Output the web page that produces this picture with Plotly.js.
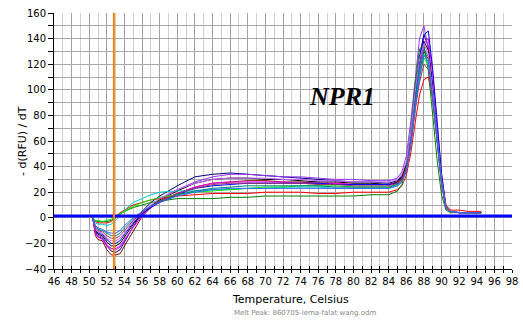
<!DOCTYPE html>
<html>
<head>
<meta charset="utf-8">
<script src="https://cdn.plot.ly/plotly-3.0.1.min.js"></script>
<style>html,body{margin:0;padding:0;background:#fff;}#chart{width:523px;height:322px;}</style>
</head>
<body>
<div id="chart"></div>
<script>
// Temperature (Celsius) sample points shared by all melt curves
const temps = [50.4,50.7,51,51.5,52,52.5,53,53.5,54,55,56,57,58,60,62,64,66,68,70,72,74,76,78,80,82,84,85,85.5,86,86.5,87,87.5,88,88.5,89,89.5,90,90.5,91,92,93,94.5];

// -d(RFU)/dT for each well
const wellNavy    = [0,-12,-15,-16,-22,-26,-27,-25,-19,-7,5,12,17,25,32,34,35,34,33,32,31,30,29,28,28,27, 29,33,42,66,98,126,143,134,103,64,30,8,5,4,4,4];
const wellPurple  = [0,-11,-14,-15,-21,-24,-25,-23,-18,-7,2,9,15,22,28,32,34,34,33,32,32,31,30,30,29,29, 31,36,48,75,110,140,150,132,96,58,26,7,5,4,4,4];
const wellBlack   = [0,-10,-13,-14,-19,-22,-22,-20,-15,-5,3,9,14,21,27,30,31,31,30,30,29,28,28,27,27,26, 28,32,41,63,94,122,138,131,101,63,29,8,5,4,4,4];
const wellDarkRed = [0,-14,-17,-18,-25,-29,-29,-28,-22,-10,1,8,13,19,24,27,28,29,29,28,28,27,27,26,26,26, 28,31,40,60,88,114,130,124,97,61,28,8,5,4,4,4];
const wellMagenta = [0,-12,-15,-17,-22,-24,-24,-22,-17,-7,2,8,13,19,24,27,28,28,28,28,27,27,27,26,26,26, 27,30,38,58,88,118,136,140,112,72,34,9,5,4,4,4];
const wellBlue    = [0,-9,-12,-13,-17,-20,-20,-18,-13,-4,3,8,12,18,23,25,26,27,27,27,27,27,26,26,26,26, 27,30,38,60,92,124,143,146,116,74,35,9,5,4,4,4];
const wellRed     = [0,-3,-4,-4,-4,-3,1,4,6,10,12,14,15,17,18,19,19,19,20,20,20,19,19,20,20,20, 22,25,33,50,74,96,108,110,92,62,30,10,6,6,5,5];
const wellGreen   = [0,-2,-3,-3,-3,-2,0,3,5,8,10,12,13,15,15,15,16,16,17,17,17,17,17,17,18,18, 21,26,40,68,104,132,135,115,80,45,18,6,4,4,4,4];
const wellCyan    = [0,-4,-5,-5,-6,-5,-2,2,6,12,15,18,20,21,21,22,22,23,23,24,24,24,23,23,23,23, 25,28,37,58,86,112,128,120,92,58,27,8,5,4,4,4];
const wellLime    = [0,-2,-2,-3,-2,-1,1,3,5,9,12,14,16,18,20,21,22,23,24,24,25,25,25,24,24,24, 26,29,38,58,86,110,125,119,92,58,27,8,5,4,4,4];
const wellTeal    = [0,-7,-9,-10,-12,-14,-14,-12,-8,-1,5,9,13,18,21,23,24,25,25,25,25,25,24,24,24,24, 26,29,38,60,90,118,132,126,98,62,29,8,5,4,4,4];
const wellViolet  = [0,-9,-11,-12,-16,-18,-18,-16,-12,-3,4,10,15,22,27,30,31,31,31,30,30,29,29,28,28,28, 30,34,44,66,98,124,136,128,98,61,28,8,5,4,4,4];
const wellPlum    = [0,-8,-10,-11,-14,-16,-16,-14,-10,-2,4,9,13,19,23,26,27,27,27,27,27,26,26,25,25,25, 27,30,38,57,84,106,120,116,92,58,27,8,5,4,4,4];
const wellSky     = [0,-6,-8,-9,-11,-12,-12,-10,-6,0,5,9,12,17,20,22,23,23,23,23,23,23,23,23,23,23, 25,28,36,56,84,110,127,122,95,60,28,8,5,4,4,4];

const wells = [wellNavy, wellPurple, wellBlack, wellDarkRed, wellMagenta, wellBlue, wellRed, wellGreen, wellCyan, wellLime, wellTeal, wellViolet, wellPlum, wellSky];
const wellColors = ['#000080','#9933ff','#000000','#800000','#ff00ff','#0000ff','#ff0000','#008000','#00cccc','#00ee00','#008080','#cc66ff','#993366','#3366ff'];

const threshold = 1.5;      // blue threshold line
const markerTemp = 52.8;    // orange cursor line

const traces = wells.map((w, i) => ({
  x: temps, y: w, type: 'scatter', mode: 'lines',
  line: {color: wellColors[i], width: 1}, hoverinfo: 'skip', showlegend: false
}));
// helper trace so the overlay tick axis is drawn
traces.push({x: [46], y: [0], xaxis: 'x2', mode: 'none', hoverinfo: 'skip', showlegend: false});

const tickFont = {family: 'DejaVu Sans, Tahoma, sans-serif', size: 10, color: '#000'};

const layout = {
  width: 523, height: 322,
  margin: {l: 54, r: 11, t: 13, b: 53},
  paper_bgcolor: '#fff', plot_bgcolor: '#fff',
  showlegend: false,
  xaxis: {
    range: [46, 98], tick0: 46, dtick: 2, tickfont: tickFont,
    showgrid: true, gridcolor: '#a0a0a0', gridwidth: 1,
    minor: {dtick: 1, showgrid: true, gridcolor: '#cfcfcf', ticks: 'outside', ticklen: 3, tickcolor: '#000'},
    ticks: 'outside', ticklen: 3, tickcolor: '#000',
    showline: true, linecolor: '#000', linewidth: 1, zeroline: false, fixedrange: true
  },
  xaxis2: {
    overlaying: 'x', matches: 'x', anchor: 'y', side: 'bottom',
    range: [46, 98], tick0: 46, dtick: 1, ticks: 'inside', ticklen: 3, tickcolor: '#000',
    showticklabels: false, showgrid: false, showline: false, zeroline: false
  },
  yaxis: {
    range: [-40, 160], tick0: 0, dtick: 20, tickfont: tickFont,
    showgrid: true, gridcolor: '#a8a8a8', gridwidth: 1,
    minor: {dtick: 10, showgrid: true, gridcolor: '#a8a8a8', ticks: 'outside', ticklen: 5, tickcolor: '#000'},
    ticks: 'outside', ticklen: 5, tickcolor: '#000',
    showline: true, linecolor: '#000', linewidth: 1, zeroline: false, fixedrange: true
  },
  shapes: [
    {type: 'line', xref: 'paper', x0: 0, x1: 1, yref: 'y', y0: threshold, y1: threshold, line: {color: '#0000ff', width: 3}},
    {type: 'line', xref: 'x', x0: markerTemp, x1: markerTemp, yref: 'paper', y0: 0, y1: 1, line: {color: '#ff8000', width: 2}}
  ],
  annotations: [
    {text: '- d(RFU) / dT', xref: 'paper', yref: 'paper', x: -0.070, y: 0.5, textangle: -90, xanchor: 'center', yanchor: 'middle', showarrow: false,
     font: {family: 'DejaVu Sans, Tahoma, sans-serif', size: 11, color: '#000'}},
    {text: 'Temperature, Celsius', xref: 'paper', yref: 'paper', x: 0.517, y: -0.118, xanchor: 'center', yanchor: 'middle', showarrow: false,
     font: {family: 'DejaVu Sans, Tahoma, sans-serif', size: 11, color: '#000'}},
    {text: 'Melt Peak: 860705-lema-falat wang.odm', xref: 'paper', yref: 'paper', x: 0.389, y: -0.170, xanchor: 'left', yanchor: 'middle', showarrow: false,
     font: {family: 'DejaVu Sans, sans-serif', size: 7, color: '#888'}},
    {text: '<b><i>NPR1</i></b>', xref: 'paper', yref: 'paper', x: 0.629, y: 0.672, xanchor: 'center', yanchor: 'middle', showarrow: false,
     font: {family: 'Liberation Serif, Times New Roman, serif', size: 26, color: '#000'}}
  ]
};

Plotly.newPlot('chart', traces, layout, {staticPlot: true, displayModeBar: false});
</script>
</body>
</html>
